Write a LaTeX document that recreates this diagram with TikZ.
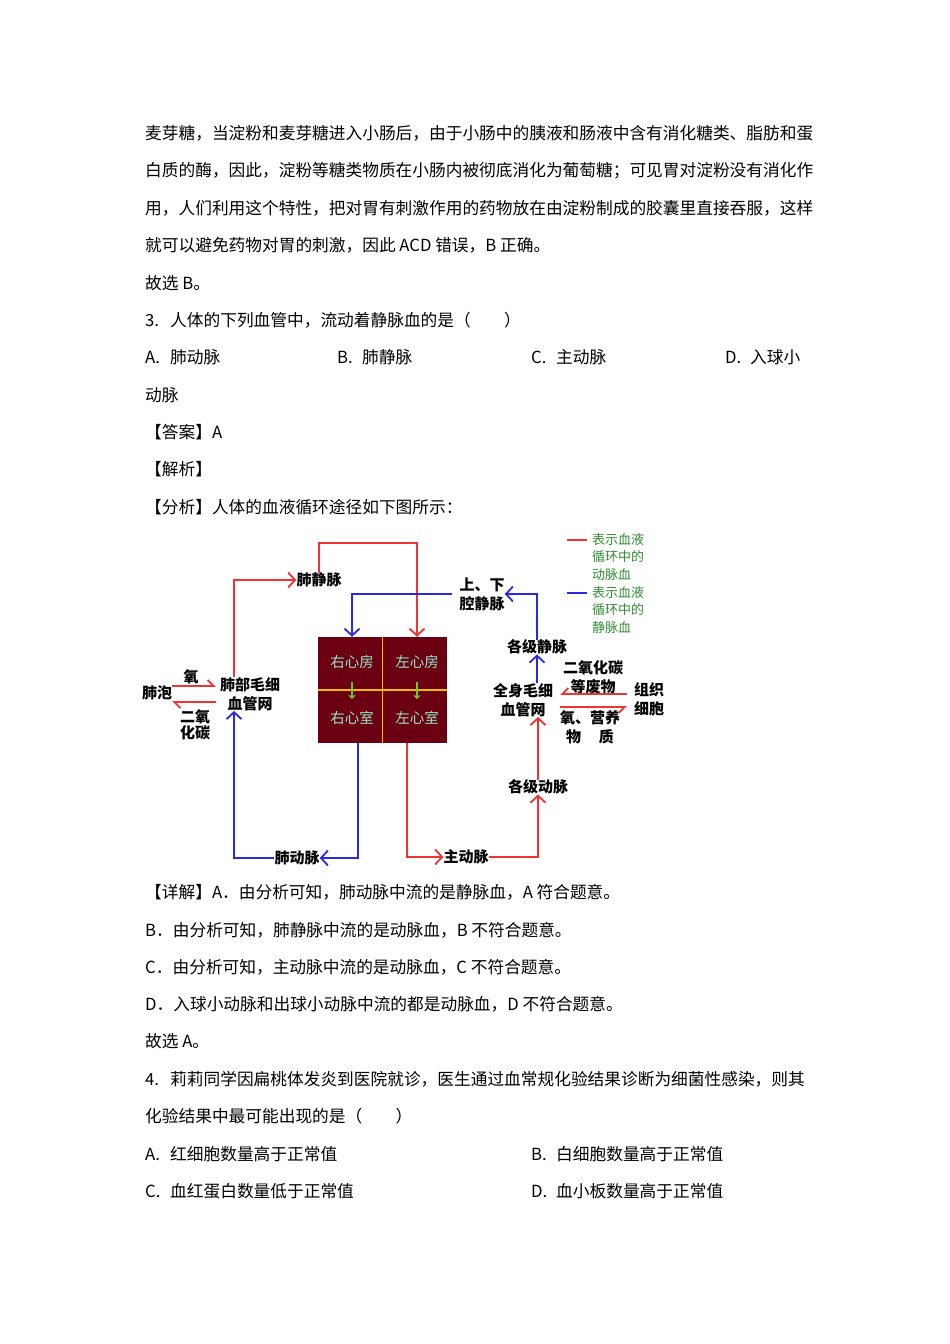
\documentclass[tikz,border=0pt]{standalone}
\usepackage{fontspec}
\newfontfamily\cjk{Noto Sans CJK SC}
\usetikzlibrary{arrows.meta,positioning}
\definecolor{artred}{RGB}{240,50,50}
\definecolor{veinblue}{RGB}{40,40,230}
\definecolor{heartred}{RGB}{106,0,18}
\definecolor{crossyellow}{RGB}{235,190,0}
\definecolor{valvegreen}{RGB}{110,200,40}
\definecolor{chambertxt}{RGB}{150,230,200}
\definecolor{keygreen}{RGB}{50,140,50}
\newcommand{\opt}[2]{\makebox[25pt][l]{#1}#2}
\begin{document}
\begin{tikzpicture}[x=1pt,y=-1pt,
    txt/.style={font=\cjk\fontsize{16.7}{20}\selectfont,anchor=west,inner sep=0pt},
    lbl/.style={font=\cjk\bfseries\fontsize{15}{19}\selectfont,align=center,inner sep=0pt},
    room/.style={font=\cjk\fontsize{14.5}{16}\selectfont,text=chambertxt,inner sep=0pt},
    key/.style={font=\cjk\fontsize{13}{17.5}\selectfont,text=keygreen,align=left,anchor=north west,inner sep=0pt},
    art/.style={artred,line width=1.8pt},
    vein/.style={veinblue,line width=1.8pt},
    >={Straight Barb[length=7pt,width=15pt]},
    hp/.style={-{Straight Barb[harpoon,length=6pt,width=12pt]}},
    hps/.style={-{Straight Barb[harpoon,swap,length=6pt,width=12pt]}}]
  \fill[white] (0,0) rectangle (950,1344);
  \useasboundingbox (0,0) rectangle (950,1344);

  % text above the figure
  \node[txt] (l1) at (145,133) {麦芽糖，当淀粉和麦芽糖进入小肠后，由于小肠中的胰液和肠液中含有消化糖类、脂肪和蛋};
  \node[txt] (l2) at (145,171) {白质的酶，因此，淀粉等糖类物质在小肠内被彻底消化为葡萄糖；可见胃对淀粉没有消化作};
  \node[txt] (l3) at (145,208) {用，人们利用这个特性，把对胃有刺激作用的药物放在由淀粉制成的胶囊里直接吞服，这样};
  \node[txt] (l4) at (145,245) {就可以避免药物对胃的刺激，因此 ACD 错误，B 正确。};
  \node[txt] (l5) at (145,283) {故选 B。};
  \node[txt] (q3) at (145,320) {\opt{3.}{人体的下列血管中，流动着静脉血的是（　　）}};
  \node[txt] (q3a) at (145,357) {\opt{A.}{肺动脉}};
  \node[txt] (q3b) at (337,357) {\opt{B.}{肺静脉}};
  \node[txt] (q3c) at (531,357) {\opt{C.}{主动脉}};
  \node[txt] (q3d) at (725,357) {\opt{D.}{入球小}};
  \node[txt] (q3d2) at (145,395) {动脉};
  \node[txt] (ans) at (145,432) {【答案】A};
  \node[txt] (jx) at (145,469) {【解析】};
  \node[txt] (fx) at (145,507) {【分析】人体的血液循环途径如下图所示：};

  % figure
  \node[fill=heartred,minimum width=129,minimum height=106,inner sep=0pt] (heart) at (382.5,690) {};
  \draw[crossyellow,line width=1.5pt] (heart.north) -- (heart.south) (heart.west) -- (heart.east);
  \node[room] (ra) at (352,662) {右心房};
  \node[room] (la) at (417,662) {左心房};
  \node[room] (rv) at (352,718) {右心室};
  \node[room] (lv) at (417,718) {左心室};
  \begin{scope}[valvegreen,line width=1.2pt,-{Straight Barb[length=3pt,width=6pt]},shorten <=13pt,shorten >=12pt]
    \draw (ra.south) -- (rv.north);
    \draw (la.south) -- (lv.north);
  \end{scope}

  \node[lbl] (pv) at (319,580) {肺静脉};
  \node[lbl] (lungcap) at (250,694) {肺部毛细\\血管网};
  \node[lbl] (alv) at (157,693) {肺泡};
  \node[lbl] (o2in) at (191,677) {氧};
  \node[lbl,font=\cjk\bfseries\fontsize{15}{16}\selectfont] (co2out) at (195,725) {二氧\\化碳};
  \node[lbl] (vc) at (482,594) {上、下\\腔静脉};
  \node[lbl] (veins) at (537,647) {各级静脉};
  \node[lbl] (bodycap) at (523,700) {全身毛细\\血管网};
  \node[lbl] (waste) at (593,677) {二氧化碳\\等废物};
  \node[lbl] (food) at (590,727) {氧、营养\\物\hspace{1.2em}质};
  \node[lbl] (tissue) at (649,699) {组织\\细胞};
  \node[lbl] (arteries) at (538,787) {各级动脉};
  \node[lbl] (aorta) at (466,857) {主动脉};
  \node[lbl] (pa) at (297,858) {肺动脉};

  \node[key] (keyart) at (592,533) {表示血液\\循环中的\\动脉血};
  \node[key] (keyvein) at (592,586) {表示血液\\循环中的\\静脉血};
  \draw[art] ([xshift=-25pt,yshift=-7pt]keyart.north west) -- ++(20,0);
  \draw[vein] ([xshift=-25pt,yshift=-7pt]keyvein.north west) -- ++(20,0);

  \coordinate (pvtop) at (370,543);
  \draw[art,->] ([xshift=-16pt]lungcap.north) |- (pv.west);
  \draw[art,->] (pv.north) |- (pvtop) -| (la |- heart.north);
  \draw[vein,->,shorten <=7pt] (vc.west) -| (ra |- heart.north);
  \draw[vein,->] (veins.north) |- (vc.east);
  \draw[vein,->] (bodycap.north -| veins) -- (veins.south);
  \draw[art,->] (arteries.north) -- (arteries.north |- bodycap.south);
  \draw[art,->] (aorta.east) -| (arteries.south);
  \draw[art,->] ([xshift=24.5pt]heart.south) |- (aorta.west);
  \draw[vein,->] ([xshift=-24.5pt]heart.south) |- (pa.east);
  \draw[vein,->] (pa.west) -| ([xshift=-16pt]lungcap.south);

  \path ([yshift=7pt]alv.east) coordinate (o2s) ([yshift=-9pt]alv.east) coordinate (co2e);
  \draw[art,hp,shorten >=4pt] (o2s) -- (o2s -| lungcap.west);
  \draw[art,hp,shorten <=4pt] (co2e -| lungcap.west) -- (co2e);
  \path ([yshift=5pt]tissue.west) coordinate (ws) ([yshift=-8pt]tissue.west) coordinate (fs);
  \draw[art,hps,shorten <=7pt,shorten >=7pt] (ws) -- (ws -| bodycap.east);
  \draw[art,hps,shorten <=7pt,shorten >=7pt] (fs -| bodycap.east) -- (fs);

  % text below the figure
  \node[txt] (xj) at (145,892) {【详解】A．由分析可知，肺动脉中流的是静脉血，A 符合题意。};
  \node[txt] (xb) at (145,930) {B．由分析可知，肺静脉中流的是动脉血，B 不符合题意。};
  \node[txt] (xc) at (145,967) {C．由分析可知，主动脉中流的是动脉血，C 不符合题意。};
  \node[txt] (xd) at (145,1004) {D．入球小动脉和出球小动脉中流的都是动脉血，D 不符合题意。};
  \node[txt] (xa) at (145,1041) {故选 A。};
  \node[txt] (q4) at (145,1079) {\opt{4.}{莉莉同学因扁桃体发炎到医院就诊，医生通过血常规化验结果诊断为细菌性感染，则其}};
  \node[txt] (q4b) at (145,1116) {化验结果中最可能出现的是（　　）};
  \node[txt] (q4oa) at (145,1154) {\opt{A.}{红细胞数量高于正常值}};
  \node[txt] (q4ob) at (531,1154) {\opt{B.}{白细胞数量高于正常值}};
  \node[txt] (q4oc) at (145,1191) {\opt{C.}{血红蛋白数量低于正常值}};
  \node[txt] (q4od) at (531,1191) {\opt{D.}{血小板数量高于正常值}};
\end{tikzpicture}
\end{document}
